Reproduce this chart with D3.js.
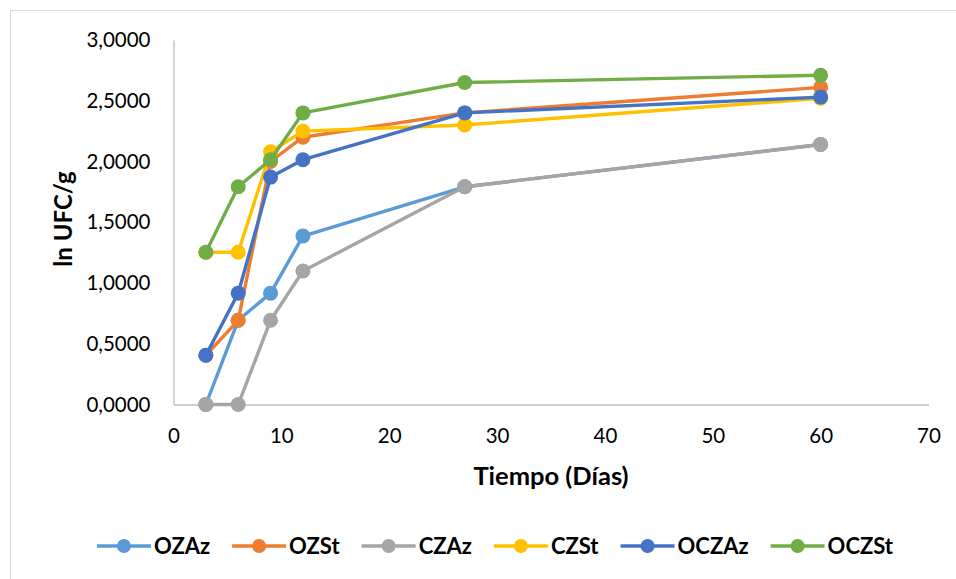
<!DOCTYPE html>
<html><head><meta charset="utf-8">
<script src="https://cdn.jsdelivr.net/npm/d3@7/dist/d3.min.js"></script>
<style>body{margin:0;background:#fff}svg{display:block}</style>
</head><body><svg id="c" width="956" height="579"></svg>
<script>
const days = [3, 6, 9, 12, 27, 60];
const seriesNames = ["OZAz", "OZSt", "CZAz", "CZSt", "OCZAz", "OCZSt"];
const seriesColors = ["#5b9bd5", "#ed7d31", "#a5a5a5", "#ffc000", "#4472c4", "#70ad47"];
const OZAz  = [0.0000, 0.6931, 0.9163, 1.3863, 1.7918, 2.1400];
const OZSt  = [0.4055, 0.6931, 2.0000, 2.2000, 2.4000, 2.6100];
const CZAz  = [0.0000, 0.0000, 0.6931, 1.0986, 1.7918, 2.1400];
const CZSt  = [1.2528, 1.2528, 2.0800, 2.2500, 2.3000, 2.5200];
const OCZAz = [0.4055, 0.9163, 1.8718, 2.0149, 2.4000, 2.5300];
const OCZSt = [1.2528, 1.7918, 2.0149, 2.4000, 2.6500, 2.7100];
const seriesValues = [OZAz, OZSt, CZAz, CZSt, OCZAz, OCZSt];
const xTicks = [0, 10, 20, 30, 40, 50, 60, 70];
const yTicks = [0, 0.5, 1, 1.5, 2, 2.5, 3];
const xTitle = "Tiempo (Días)";
const yTitle = "ln UFC/g";

const svg = d3.select("#c");
const font = "Lato, 'Open Sans', sans-serif";
// chart border
svg.append("rect").attr("x", 10.5).attr("y", 10.5).attr("width", 960).attr("height", 600)
  .attr("fill", "none").attr("stroke", "#d9d9d9").attr("stroke-width", 1);

const x = d3.scaleLinear().domain([0, 70]).range([173.5, 928.5]);
const y = d3.scaleLinear().domain([0, 3]).range([404.5, 40]);

const xAxis = svg.append("g").attr("transform", `translate(0,${y(0)})`)
  .call(d3.axisBottom(x).tickValues(xTicks).tickSize(0).tickPadding(22).tickFormat(d3.format("d")));
const yAxis = svg.append("g").attr("transform", `translate(${x(0)},0)`)
  .call(d3.axisLeft(y).tickValues(yTicks).tickSize(0).tickPadding(23)
    .tickFormat(d => d.toFixed(4).replace(".", ",")));
[xAxis, yAxis].forEach(a => {
  a.select(".domain").attr("stroke", "#bfbfbf").attr("stroke-width", 1.3);
  a.selectAll("text").attr("font-family", font).attr("font-size", 20.5).attr("fill", "#000");
});
xAxis.selectAll("text").attr("dy", "0.71em").attr("y", 24);

svg.append("text").attr("x", 551).attr("y", 485).attr("text-anchor", "middle")
  .attr("font-family", font).attr("font-weight", "bold").attr("font-size", 25.5).text(xTitle);
svg.append("text").attr("transform", "translate(72,219) rotate(-90)").attr("text-anchor", "middle")
  .attr("font-family", font).attr("font-weight", "bold").attr("font-size", 24).text(yTitle);

const line = d3.line().x((d, i) => x(days[i])).y(d => y(d));
seriesNames.forEach((name, s) => {
  const g = svg.append("g");
  g.append("path").datum(seriesValues[s]).attr("d", line).attr("fill", "none")
    .attr("stroke", seriesColors[s]).attr("stroke-width", 3.4).attr("stroke-linejoin", "round");
  g.selectAll("circle").data(seriesValues[s]).join("circle")
    .attr("cx", (d, i) => x(days[i])).attr("cy", d => y(d)).attr("r", 7.5)
    .attr("fill", seriesColors[s]);
});

// legend
const leg = svg.append("g");
let cx = 0;
const gap = 22;
seriesNames.forEach((name, s) => {
  const it = leg.append("g");
  it.append("line").attr("x1", 0).attr("x2", 54).attr("y1", 0).attr("y2", 0)
    .attr("stroke", seriesColors[s]).attr("stroke-width", 3.4);
  it.append("circle").attr("cx", 27).attr("cy", 0).attr("r", 7).attr("fill", seriesColors[s]);
  const t = it.append("text").attr("x", 57).attr("y", 0).attr("dy", "0.36em")
    .attr("font-family", font).attr("font-weight", "bold").attr("font-size", 22).text(name);
  const w = 57 + t.node().getComputedTextLength();
  it.attr("transform", `translate(${cx},0)`);
  cx += w + gap;
});
const total = cx - gap;
leg.attr("transform", `translate(${495 - total / 2},546)`);
</script></body></html>
